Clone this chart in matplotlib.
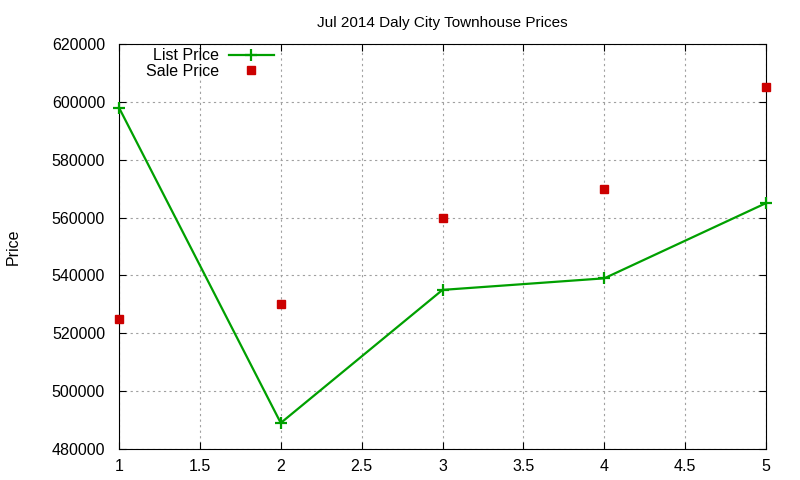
import matplotlib as mpl
mpl.use('Agg')
import matplotlib.pyplot as plt

months = [1, 2, 3, 4, 5]
list_price = [598000, 489000, 535000, 539000, 565000]
sale_price = [525000, 530000, 560000, 570000, 605000]

plt.rcParams['font.family'] = ['Liberation Sans', 'DejaVu Sans']

fig = plt.figure(figsize=(8, 4.8), dpi=100)
ax = fig.add_axes([0.14875, 0.0646, 0.80875, 0.8437])

ax.plot(months, list_price, color='#00a000', linewidth=1.6, marker='+',
        markersize=8, markeredgewidth=1.6, label='List Price', zorder=3,
        clip_on=False)
ax.plot(months, sale_price, linestyle='none', color='#cc0000', marker='s',
        markersize=6, label='Sale Price', zorder=3, clip_on=False)

ax.set_xlim(1, 5)
ax.set_ylim(480000, 620000)
ax.set_xticks([1, 1.5, 2, 2.5, 3, 3.5, 4, 4.5, 5])
ax.set_xticklabels(['1', '1.5', '2', '2.5', '3', '3.5', '4', '4.5', '5'])
ax.set_yticks(range(480000, 620001, 20000))
ax.tick_params(direction='in', labelsize=11.5, top=True, right=True, length=5)
ax.tick_params(axis='y', pad=10)
ax.tick_params(axis='x', pad=7)
ax.grid(True, color='#a0a0a0', linestyle=(0, (2, 3)), linewidth=0.8)

# y label placed like gnuplot, near the left edge of the figure
fig.text(13 / 800, 1 - 247 / 480, 'Price', rotation=90, fontsize=11.5,
         ha='center', va='center')
ax.set_title('Jul 2014 Daly City Townhouse Prices', fontsize=11, pad=12)

ax.legend(loc='upper left', bbox_to_anchor=(0.02, 1.025), frameon=False,
          markerfirst=False, fontsize=11.5, handlelength=2.8,
          labelspacing=0.05, handletextpad=0.6)

plt.savefig('out.png', format='png', dpi=100)
